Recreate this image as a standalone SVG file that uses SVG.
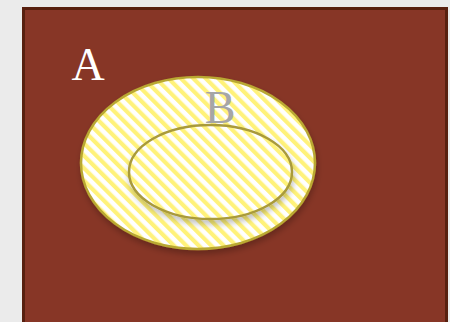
<svg xmlns="http://www.w3.org/2000/svg" width="450" height="322" viewBox="0 0 450 322">
<defs>
<pattern id="stripes" patternUnits="userSpaceOnUse" width="8.8" height="10" patternTransform="rotate(-45)">
<rect x="0" y="0" width="8.8" height="10" fill="#ffffff"/>
<rect x="0" y="0" width="4.2" height="10" fill="#fff27a"/>
</pattern>
<filter id="shadow" x="-20%" y="-20%" width="140%" height="150%">
<feGaussianBlur in="SourceAlpha" stdDeviation="3"/>
<feOffset dx="1" dy="4" result="b"/>
<feComponentTransfer><feFuncA type="linear" slope="0.25"/></feComponentTransfer>
<feMerge><feMergeNode/><feMergeNode in="SourceGraphic"/></feMerge>
</filter>
<style>
.lbl{font-family:"Liberation Serif","Times New Roman",serif;font-size:46px;text-anchor:middle}
</style>
</defs>
<rect width="450" height="322" fill="#ebebeb"/>
<g id="A">
<rect x="23.5" y="8.5" width="423" height="320" fill="#873626" stroke="#58200f" stroke-width="3"/>
<text class="lbl" x="88" y="80" fill="#ffffff">A</text>
</g>
<g id="Bouter">
<ellipse cx="198" cy="163" rx="117" ry="86" fill="url(#stripes)" stroke="#b9a832" stroke-width="2.5" filter="url(#shadow)"/>
<text class="lbl" x="220" y="123" fill="#a6a6a6">B</text>
</g>
<g id="Binner">
<ellipse cx="210.5" cy="172" rx="81.5" ry="47" fill="url(#stripes)" stroke="#a99a3a" stroke-width="2.5" filter="url(#shadow)"/>
</g>
<g id="connectors"/>
</svg>
